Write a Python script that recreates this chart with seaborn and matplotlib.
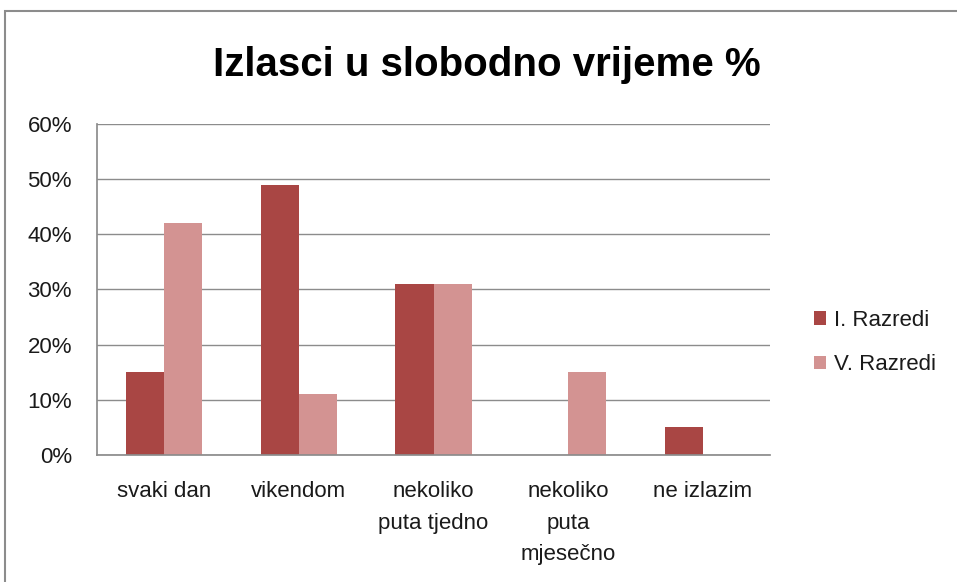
import numpy as np
import pandas as pd
import matplotlib
matplotlib.use('Agg')
import matplotlib.pyplot as plt
import seaborn as sns
from matplotlib.patches import Rectangle
from matplotlib.ticker import PercentFormatter

# data
categories = ['svaki dan', 'vikendom', 'nekoliko\nputa tjedno', 'nekoliko\nputa\nmjesečno', 'ne izlazim']
series_names = ['I. Razredi', 'V. Razredi']
razredi_1 = [15, 49, 31, 0, 5]
razredi_5 = [42, 11, 31, 15, 0]
colors = ['#A94644', '#D39392']

df = pd.DataFrame({
    'kategorija': categories * 2,
    'serija': [series_names[0]] * len(categories) + [series_names[1]] * len(categories),
    'postotak': razredi_1 + razredi_5,
})

sns.set_theme(style='white')
plt.rcParams['font.family'] = ['Liberation Sans', 'DejaVu Sans']
plt.rcParams['text.color'] = '#1a1a1a'

fig = plt.figure(figsize=(9.57, 5.82), dpi=100)
ax = fig.add_axes([0.1014, 0.2182, 0.7032, 0.5688])

sns.barplot(data=df, x='kategorija', y='postotak', hue='serija', order=categories,
            hue_order=series_names, palette=colors, width=0.565, gap=0,
            saturation=1, ax=ax, edgecolor='none')

ax.set_ylim(0, 60)
ax.set_yticks(np.arange(0, 61, 10))
ax.yaxis.set_major_formatter(PercentFormatter(decimals=0))
ax.grid(True, axis='y', color='#8C8C8C', linewidth=1)
ax.set_axisbelow(True)
for side in ['top', 'right']:
    ax.spines[side].set_visible(False)
ax.spines['bottom'].set_color('#8C8C8C')
ax.spines['left'].set_color('#8C8C8C')
ax.set_xlabel('')
ax.set_ylabel('')
ax.tick_params(axis='both', length=0, labelsize=16, colors='#1a1a1a')
ax.tick_params(axis='x', pad=19)
ax.tick_params(axis='y', pad=18)
for lbl in ax.get_xticklabels():
    lbl.set_linespacing(1.65)
    lbl.set_verticalalignment('top')

leg = ax.legend(loc='center left', bbox_to_anchor=(1.035, 0.34), frameon=False,
                fontsize=16, handlelength=0.55, handleheight=0.55, handletextpad=0.35,
                labelspacing=1.05)

fig.text(0.509, 0.888, 'Izlasci u slobodno vrijeme %', ha='center', va='center',
         fontsize=29, fontweight='bold', color='black')

# outer chart frame, cut off at right and bottom like the reference
fig.patches.append(Rectangle((5 / 957, -0.05), 1.1, 1 - 11 / 582 + 0.05,
                             transform=fig.transFigure, fill=False,
                             edgecolor='#8C8C8C', linewidth=1.5))

fig.savefig('out.png', dpi=100)
